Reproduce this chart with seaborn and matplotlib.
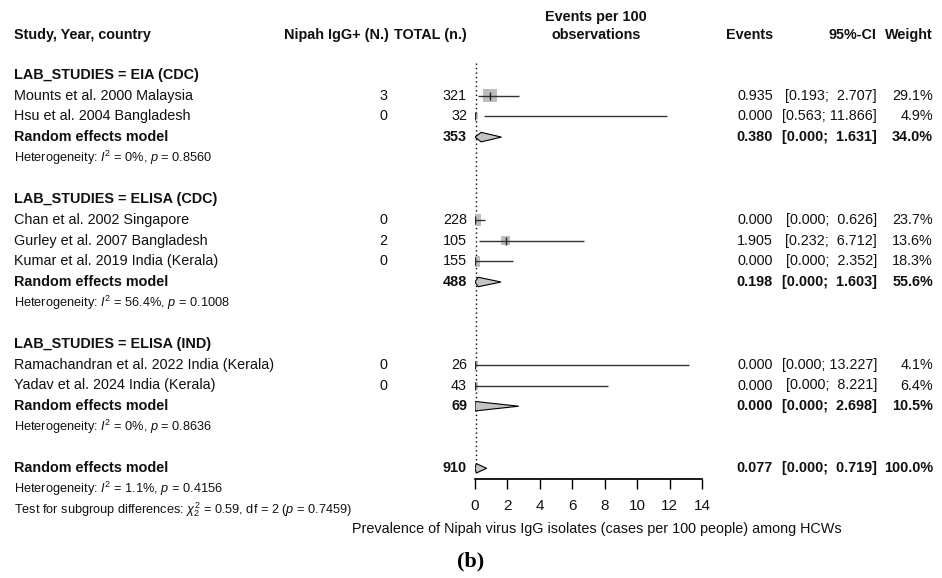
import numpy as np
import pandas as pd
import matplotlib
matplotlib.use("Agg")
import matplotlib.pyplot as plt
import matplotlib.transforms as mtransforms
import seaborn as sns

# data
groups = ["LAB_STUDIES = EIA (CDC)", "LAB_STUDIES = ELISA (CDC)",
          "LAB_STUDIES = ELISA (IND)"]
studies = ["Mounts et al. 2000 Malaysia", "Hsu et al. 2004 Bangladesh",
           "Chan et al. 2002 Singapore", "Gurley et al. 2007 Bangladesh",
           "Kumar et al. 2019 India (Kerala)",
           "Ramachandran et al. 2022 India (Kerala)",
           "Yadav et al. 2024 India (Kerala)"]
study_group = [0, 0, 1, 1, 1, 2, 2]
positives = [3, 0, 0, 2, 0, 0, 0]
totals = [321, 32, 228, 105, 155, 26, 43]
events = [0.935, 0.000, 0.000, 1.905, 0.000, 0.000, 0.000]
ci_low = [0.193, 0.563, 0.000, 0.232, 0.000, 0.000, 0.000]
ci_high = [2.707, 11.866, 0.626, 6.712, 2.352, 13.227, 8.221]
weights = [29.1, 4.9, 23.7, 13.6, 18.3, 4.1, 6.4]

# random effects per subgroup + overall
re_totals = [353, 488, 69]
re_events = [0.380, 0.198, 0.000]
re_low = [0.000, 0.000, 0.000]
re_high = [1.631, 1.603, 2.698]
re_weights = [34.0, 55.6, 10.5]
re_het = ["$I^2$ = 0%, $p$ = 0.8560", "$I^2$ = 56.4%, $p$ = 0.1008",
          "$I^2$ = 0%, $p$ = 0.8636"]

all_total = 910
all_event = 0.077
all_low = 0.000
all_high = 0.719
all_het = "$I^2$ = 1.1%, $p$ = 0.4156"
subgroup_test = r"$\chi^2_2$ = 0.59, df = 2 ($p$ = 0.7459)"

xticks = [0, 2, 4, 6, 8, 10, 12, 14]

sns.set_theme(style="white")
plt.rcParams["font.family"] = ["Liberation Sans", "DejaVu Sans"]
plt.rcParams["mathtext.fontset"] = "custom"
plt.rcParams["mathtext.rm"] = "Liberation Sans"
plt.rcParams["mathtext.it"] = "Liberation Sans:italic"
plt.rcParams["mathtext.bf"] = "Liberation Sans:bold"

W, H = 942, 578
fig = plt.figure(figsize=(W / 100, H / 100), dpi=100)
# forest panel: x 0..14 spans pixels 475..702, rows spaced 20.7 px from y=75
row0, rowh = 75, 20.7
ax = fig.add_axes([475 / W, 0, 227 / W, 1])
ax.set_xlim(0, 14)
ax.set_ylim((H - row0) / rowh, -row0 / rowh)
ax.patch.set_alpha(0)

# row layout
rows = []  # (kind, index, row)
r = 0
for g in range(3):
    rows.append(("group", g, r)); r += 1
    for i, sg in enumerate(study_group):
        if sg == g:
            rows.append(("study", i, r)); r += 1
    rows.append(("re", g, r)); r += 1
    rows.append(("het", g, r)); r += 2
rows.append(("all", 0, r)); r += 1
rows.append(("allhet", 0, r)); r += 1
rows.append(("test", 0, r))

study_rows = [row for kind, i, row in rows if kind == "study"]
re_rows = [row for kind, i, row in rows if kind == "re"]
all_row = [row for kind, i, row in rows if kind == "all"][0]

df = pd.DataFrame({"est": events, "lo": ci_low, "hi": ci_high,
                   "w": weights, "row": study_rows})

blend = mtransforms.blended_transform_factory(fig.transFigure, ax.transData)
def fx(px):
    return px / W

# reference line at overall estimate
ax.vlines(all_event, -0.6, all_row + 0.05, colors="black",
          linestyles=(0, (1, 2.2)), linewidth=1.0)

# confidence intervals
ax.hlines(df["row"], df["lo"], df["hi"], colors="#333333", linewidth=1.0,
          zorder=3)
# squares sized by weight (area ~ weight)
side_px = 2.5 * np.sqrt(df["w"])
sns.scatterplot(data=df, x="est", y="row", marker="s", color="#bdbdbd",
                s=(side_px * 0.72) ** 2, edgecolor="none", ax=ax,
                legend=False, zorder=2)
sns.scatterplot(data=df, x="est", y="row", marker="|", color="#222222",
                s=30, linewidth=1.0, ax=ax, legend=False, zorder=4)

def diamond(est, lo, hi, row):
    h = 0.23
    ax.fill([lo, est, hi, est, lo], [row, row - h, row, row + h, row],
            facecolor="#c4c4c4", edgecolor="black", linewidth=0.8, zorder=3)

for g in range(3):
    diamond(re_events[g], re_low[g], re_high[g], re_rows[g])
diamond(all_event, all_low, all_high, all_row)

# x axis
for s in ["top", "left", "right"]:
    ax.spines[s].set_visible(False)
ax.spines["bottom"].set_position(("data", all_row + 0.5))
ax.spines["bottom"].set_bounds(0, 14)
ax.spines["bottom"].set_color("black")
ax.set_xticks(xticks)
ax.set_yticks([])
ax.tick_params(axis="x", bottom=True, direction="out", length=7, width=1,
               color="black", labelsize=11, pad=8, labelcolor="#111111")
ax.set_xlabel("")
ax.set_ylabel("")

fs = 10.4
tc = "#111111"

# headers
hy = (35 - row0) / rowh
kw = dict(transform=blend, fontsize=fs, fontweight="bold", color=tc,
          va="center")
ax.text(fx(14), hy, "Study, Year, country", ha="left", **kw)
ax.text(fx(389), hy, "Nipah IgG+ (N.)", ha="right", **kw)
ax.text(fx(467), hy, "TOTAL (n.)", ha="right", **kw)
ax.text(fx(596), hy - 0.85, "Events per 100", ha="center", **kw)
ax.text(fx(596), hy, "observations", ha="center", **kw)
ax.text(fx(773), hy, "Events", ha="right", **kw)
ax.text(fx(876), hy, "95%-CI", ha="right", **kw)
ax.text(fx(933), hy, "Weight", ha="right", **kw)

def ci_text(lo, hi):
    a = f"{lo:.3f}"
    b = f"{hi:.3f}"
    pad = " " * (6 - len(b))
    return f"[{a}; {pad}{b}]"

def numeric_cols(row, tot, ev, lo, hi, w, bold):
    k = dict(transform=blend, fontsize=fs, color=tc, va="center",
             fontweight="bold" if bold else "normal")
    ax.text(fx(467), row, str(tot), ha="right", **k)
    ax.text(fx(773), row, f"{ev:.3f}", ha="right", **k)
    ax.text(fx(877), row, ci_text(lo, hi), ha="right", **k)
    ax.text(fx(933), row, f"{w:.1f}%", ha="right", **k)

small = 9.2
for kind, i, row in rows:
    if kind == "group":
        ax.text(fx(14), row, groups[i], transform=blend, fontsize=fs,
                fontweight="bold", color=tc, va="center", ha="left")
    elif kind == "study":
        ax.text(fx(14), row, studies[i], transform=blend, fontsize=fs,
                color=tc, va="center", ha="left")
        ax.text(fx(383), row, str(positives[i]), transform=blend,
                fontsize=fs, color=tc, va="center", ha="center")
        numeric_cols(row, totals[i], events[i], ci_low[i], ci_high[i],
                     weights[i], False)
    elif kind == "re":
        ax.text(fx(14), row, "Random effects model", transform=blend,
                fontsize=fs, fontweight="bold", color=tc, va="center")
        numeric_cols(row, re_totals[i], re_events[i], re_low[i],
                     re_high[i], re_weights[i], True)
    elif kind == "het":
        ax.text(fx(14), row, "Heterogeneity: " + re_het[i], transform=blend,
                fontsize=small, color=tc, va="center")
    elif kind == "all":
        ax.text(fx(14), row, "Random effects model", transform=blend,
                fontsize=fs, fontweight="bold", color=tc, va="center")
        numeric_cols(row, all_total, all_event, all_low, all_high, 100.0,
                     True)
    elif kind == "allhet":
        ax.text(fx(14), row, "Heterogeneity: " + all_het, transform=blend,
                fontsize=small, color=tc, va="center")
    elif kind == "test":
        ax.text(fx(14), row, "Test for subgroup differences: " + subgroup_test,
                transform=blend, fontsize=small, color=tc, va="center")

ax.text(fx(597), (529 - row0) / rowh,
        "Prevalence of Nipah virus IgG isolates (cases per 100 people) among HCWs",
        transform=blend, fontsize=fs, color=tc, va="center", ha="center")

fig.text(fx(471), 1 - 561 / H, "(b)", fontsize=16, fontweight="bold",
         family=["Liberation Serif", "DejaVu Serif"], ha="center",
         va="center", color="black")

fig.savefig("out.png", dpi=100, facecolor="white")
